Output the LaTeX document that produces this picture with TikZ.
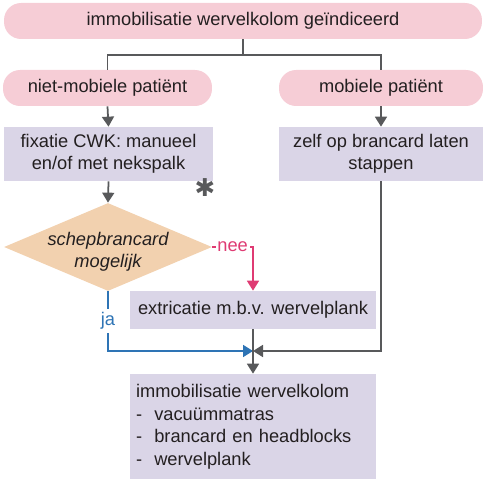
\documentclass[tikz,border=0pt]{standalone}
\usepackage{fontspec}
\setmainfont{Liberation Sans}
\newfontfamily\symfont{DejaVu Sans}
\usetikzlibrary{arrows.meta,shapes.geometric}
\definecolor{pinkfill}{HTML}{F6CDD6}
\definecolor{lilacfill}{HTML}{DAD5E7}
\definecolor{peachfill}{HTML}{F2D1AF}
\definecolor{linegray}{HTML}{58595B}
\definecolor{jablue}{HTML}{2E74B5}
\definecolor{neepink}{HTML}{DF3B73}
\definecolor{txt}{HTML}{231F20}

\begin{document}
\begin{tikzpicture}[x=0.02cm, y=-0.02cm,
  every node/.style={font=\fontsize{10.4}{12.8}\selectfont, text=txt},
  pill/.style={fill=pinkfill, rounded corners=0.34cm, minimum height=0.72cm, inner sep=0pt},
  actbox/.style={fill=lilacfill, align=center, inner sep=0pt},
  keuze/.style={diamond, fill=peachfill, minimum width=4.16cm, minimum height=1.76cm, inner sep=0pt},
  lijn/.style={draw=linegray, line width=1pt},
  pijl/.style={lijn, -{Triangle[length=0.2cm, width=0.24cm]}}]
\useasboundingbox (0,0) rectangle (483,479);

\node[pill, minimum width=9.56cm] (indicatie) at (243,21) {immobilisatie wervelkolom geïndiceerd};
\node[pill, minimum width=4.18cm] (nietmob) at (107.5,88) {niet-mobiele patiënt};
\node[pill, minimum width=4.08cm] (mob) at (381,88) {mobiele patiënt};

\node[actbox, minimum width=4.18cm, minimum height=1.08cm] (fixatie) at (108.5,154) {fixatie CWK: manueel\\en/of met nekspalk};
\node[actbox, minimum width=4.08cm, minimum height=1.08cm] (zelf) at (381,154) {zelf op brancard laten\\stappen};
\node[text=linegray, font=\symfont\fontsize{14}{14}\selectfont] (ster) at (205,188) {✱};

\node[keuze] (schep) at (108,247) {};
\node[font=\itshape\fontsize{10.4}{12.4}\selectfont, align=center] (scheptekst) at (108,252) {schepbrancard\\mogelijk};

\node[actbox, minimum width=4.92cm, minimum height=0.76cm] (extricatie) at (253,310) {extricatie m.b.v. wervelplank};
\coordinate (samen) at (253,351);
\node[fill=lilacfill, align=left, text width=4.68cm, minimum height=2.12cm, inner xsep=0.12cm, inner ysep=0pt] (immob) at (253,427)
  {immobilisatie wervelkolom\\-~~vacuümmatras\\-~~brancard en headblocks\\-~~wervelplank};

\draw[lijn] (indicatie.south) -- (243,55);
\draw[lijn] (nietmob.north) -- (nietmob.north |- 0,55) -| (mob.north);
\draw[pijl] (nietmob.south) -- (fixatie.north);
\draw[pijl] (mob.south) -- (zelf.north);
\draw[pijl] (fixatie.south) -- (schep.north);
\draw[draw=neepink, line width=1pt, -{Triangle[length=0.2cm, width=0.24cm]}] (schep.east) -| node[pos=0.25, fill=white, inner sep=1pt, text=neepink] (nee) {nee} (extricatie.north);
\draw[draw=jablue, line width=1pt, -{Triangle[length=0.2cm, width=0.24cm]}] (schep.south) -- node[midway, fill=white, inner ysep=2pt, inner xsep=1pt, text=jablue] (ja) {ja} (schep.south |- samen) -- (samen);
\draw[pijl] (zelf.south) -- (zelf.south |- samen) -- (samen);
\draw[pijl] (extricatie.south) -- (immob.north);
\end{tikzpicture}
\end{document}
